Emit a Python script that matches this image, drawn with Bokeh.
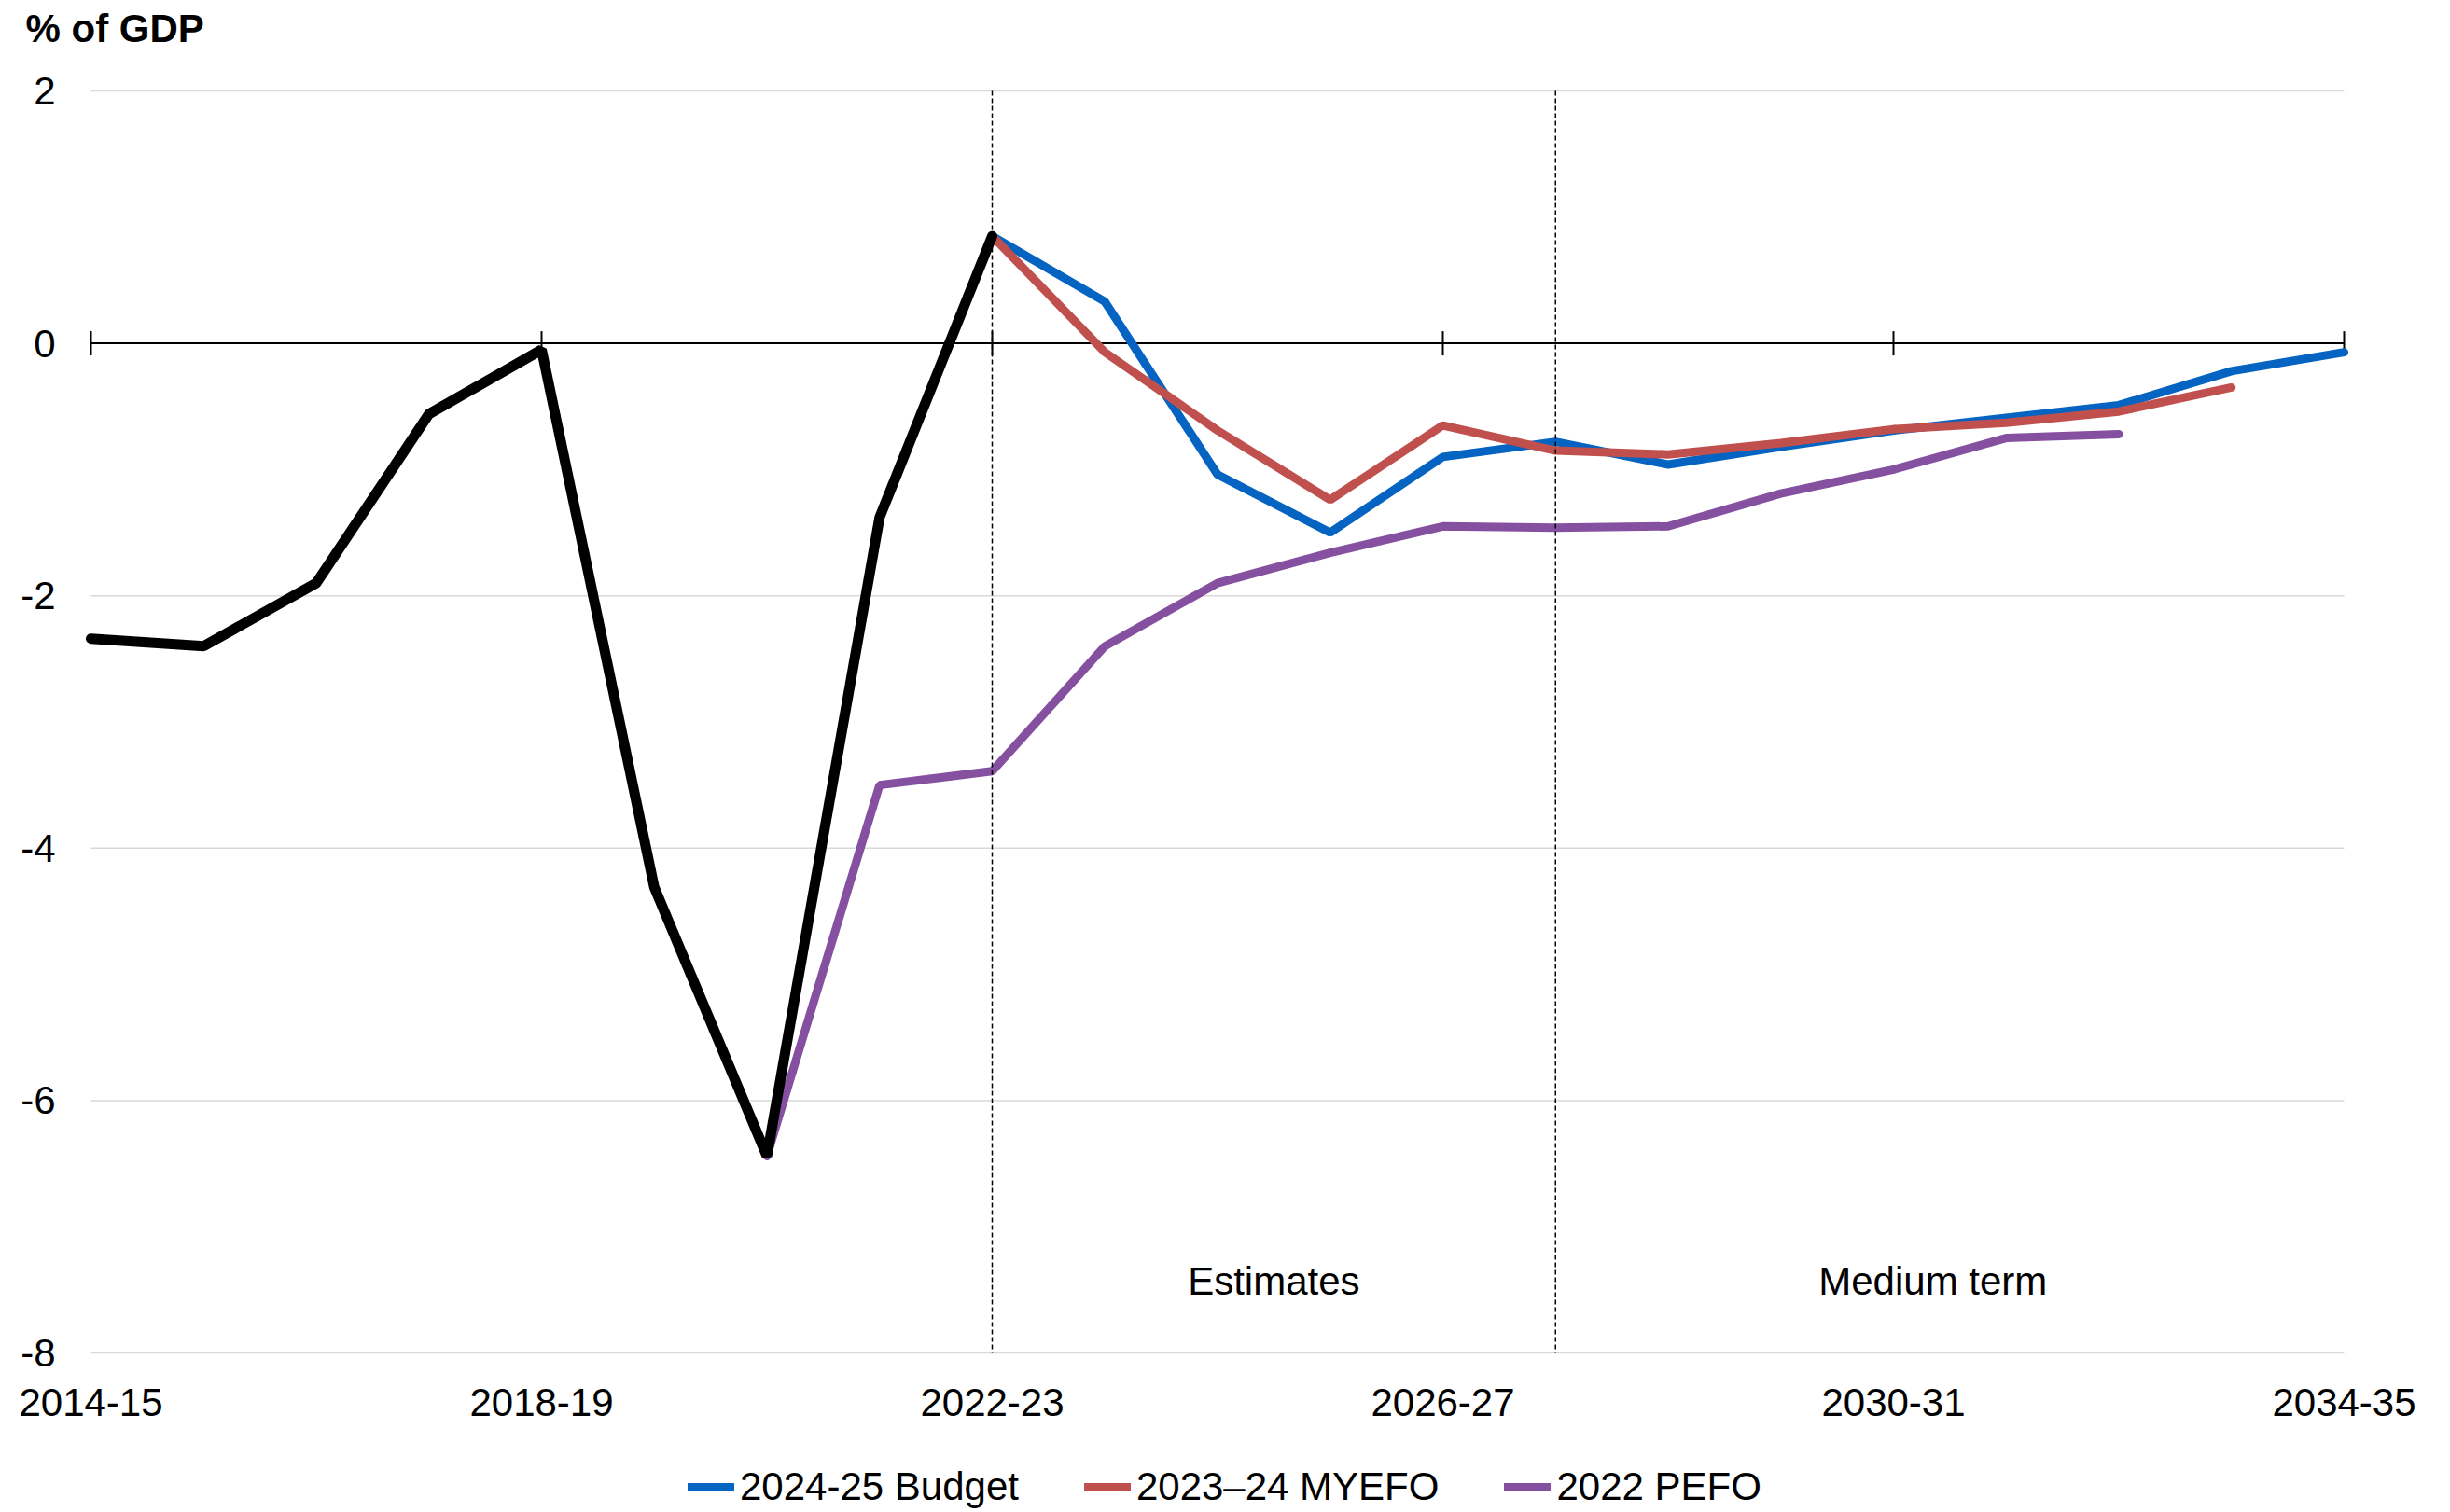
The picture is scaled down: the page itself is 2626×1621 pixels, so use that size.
import math
from bokeh.plotting import figure
from bokeh.models import ColumnDataSource, Label, Legend, LegendItem, Range1d
from bokeh.core.properties import value
from bokeh.embed import file_html
from bokeh.resources import INLINE

years = ["2014-15", "2015-16", "2016-17", "2017-18", "2018-19", "2019-20", "2020-21",
         "2021-22", "2022-23", "2023-24", "2024-25", "2025-26", "2026-27", "2027-28",
         "2028-29", "2029-30", "2030-31", "2031-32", "2032-33", "2033-34", "2034-35"]

actual = [-2.34, -2.40, -1.90, -0.56, -0.05, -4.31, -6.44, -1.38, 0.85]
budget_2024_25 = [0.85, 0.33, -1.04, -1.50, -0.90, -0.78, -0.96, -0.82, -0.69, -0.59, -0.49, -0.22, -0.07]
myefo_2023_24 = [0.85, -0.07, -0.69, -1.24, -0.65, -0.85, -0.88, -0.79, -0.68, -0.63, -0.54, -0.35]
pefo_2022 = [-6.44, -3.50, -3.39, -2.40, -1.90, -1.66, -1.45, -1.46, -1.45, -1.19, -1.00, -0.75, -0.72]

actual_start, budget_start, myefo_start, pefo_start = 0, 8, 8, 6
tick_idx = [0, 4, 8, 12, 16, 20]
y_ticks = [2, 0, -2, -4, -6, -8]
phase_bounds = [8, 13]

FONT = "Liberation Sans"
FS = "42px"

# layout (pixels): plot area 97..2512 horizontally, 97..1450 vertically on a 2610x1620 canvas
W, H = 2610, 1620
LEFT, RIGHT, TOP, BOTTOM = 97, 2512, 97, 1450
x_first, x_last = 0, len(years) - 1
y_top, y_bot = max(y_ticks), min(y_ticks)
PX_X = (RIGHT - LEFT) / (x_last - x_first)
PX_Y = (BOTTOM - TOP) / (y_top - y_bot)

p = figure(frame_width=W, frame_height=H, output_backend="svg", toolbar_location=None,
           x_axis_type=None, y_axis_type=None, min_border=0,
           x_range=Range1d(x_first - LEFT / PX_X, x_last + (W - RIGHT) / PX_X),
           y_range=Range1d(y_bot - (H - BOTTOM) / PX_Y, y_top + TOP / PX_Y))
p.outline_line_color = None
p.background_fill_color = "white"
p.border_fill_color = "white"

n = len(y_ticks)
# horizontal gridlines
p.segment(x0=[x_first] * n, y0=y_ticks, x1=[x_last] * n, y1=y_ticks,
          line_color="#D9D9D9", line_width=1.5)
# zero axis line with crossing tick marks
p.segment(x0=[x_first], y0=[0], x1=[x_last], y1=[0], line_color="black", line_width=2)
p.scatter(x=tick_idx, y=[0] * len(tick_idx), marker="dash", angle=math.pi / 2, size=26,
          line_color="black", line_width=2)

def src(vals, start):
    return ColumnDataSource(dict(x=list(range(start, start + len(vals))), y=vals))

r_blue = p.line("x", "y", source=src(budget_2024_25, budget_start), line_color="#0563C1",
                line_width=9, line_cap="round")
r_red = p.line("x", "y", source=src(myefo_2023_24, myefo_start), line_color="#C0504D",
               line_width=9, line_cap="round")
r_purple = p.line("x", "y", source=src(pefo_2022, pefo_start), line_color="#8550A0",
                  line_width=9, line_cap="round")
r_black = p.line("x", "y", source=src(actual, actual_start), line_color="black",
                 line_width=11, line_cap="round")

# dashed phase boundaries
p.segment(x0=phase_bounds, y0=[y_top] * len(phase_bounds), x1=phase_bounds,
          y1=[y_bot] * len(phase_bounds), line_color="black", line_width=1.5, line_dash="5 3")

# y tick labels
p.text(x=[x_first - 38 / PX_X] * n, y=y_ticks, text=[str(v) for v in y_ticks],
       text_font=value(FONT), text_font_size=value(FS), text_color="black",
       text_align="right", text_baseline="middle")
# x tick labels
p.text(x=tick_idx, y=[y_bot - 53 / PX_Y] * len(tick_idx), text=[years[i] for i in tick_idx],
       text_font=value(FONT), text_font_size=value(FS), text_color="black",
       text_align="center", text_baseline="middle")

p.add_layout(Label(x=10.5, y=-7.43, text="Estimates", text_font=FONT, text_font_size=FS,
                   text_align="center", text_baseline="middle", text_color="black"))
p.add_layout(Label(x=16.35, y=-7.43, text="Medium term", text_font=FONT, text_font_size=FS,
                   text_align="center", text_baseline="middle", text_color="black"))

# "% of GDP" heading
p.add_layout(Label(x=x_first - 70 / PX_X, y=y_top + 67 / PX_Y, text="% of GDP",
                   text_font=FONT, text_font_size=FS, text_font_style="bold",
                   text_align="left", text_baseline="middle", text_color="black"))

legend = Legend(items=[LegendItem(label="2024-25 Budget", renderers=[r_blue]),
                       LegendItem(label="2023\u201324 MYEFO", renderers=[r_red]),
                       LegendItem(label="2022 PEFO", renderers=[r_purple])],
                orientation="horizontal", location=(737, 2))
legend.label_text_font = FONT
legend.label_text_font_size = FS
legend.label_text_color = "black"
legend.glyph_width = 50
legend.glyph_height = 40
legend.label_standoff = 6
legend.spacing = 70
legend.padding = 0
legend.margin = 0
legend.border_line_color = None
legend.background_fill_alpha = 0
p.add_layout(legend, "center")

open("out.html", "w").write(file_html(p, INLINE))
